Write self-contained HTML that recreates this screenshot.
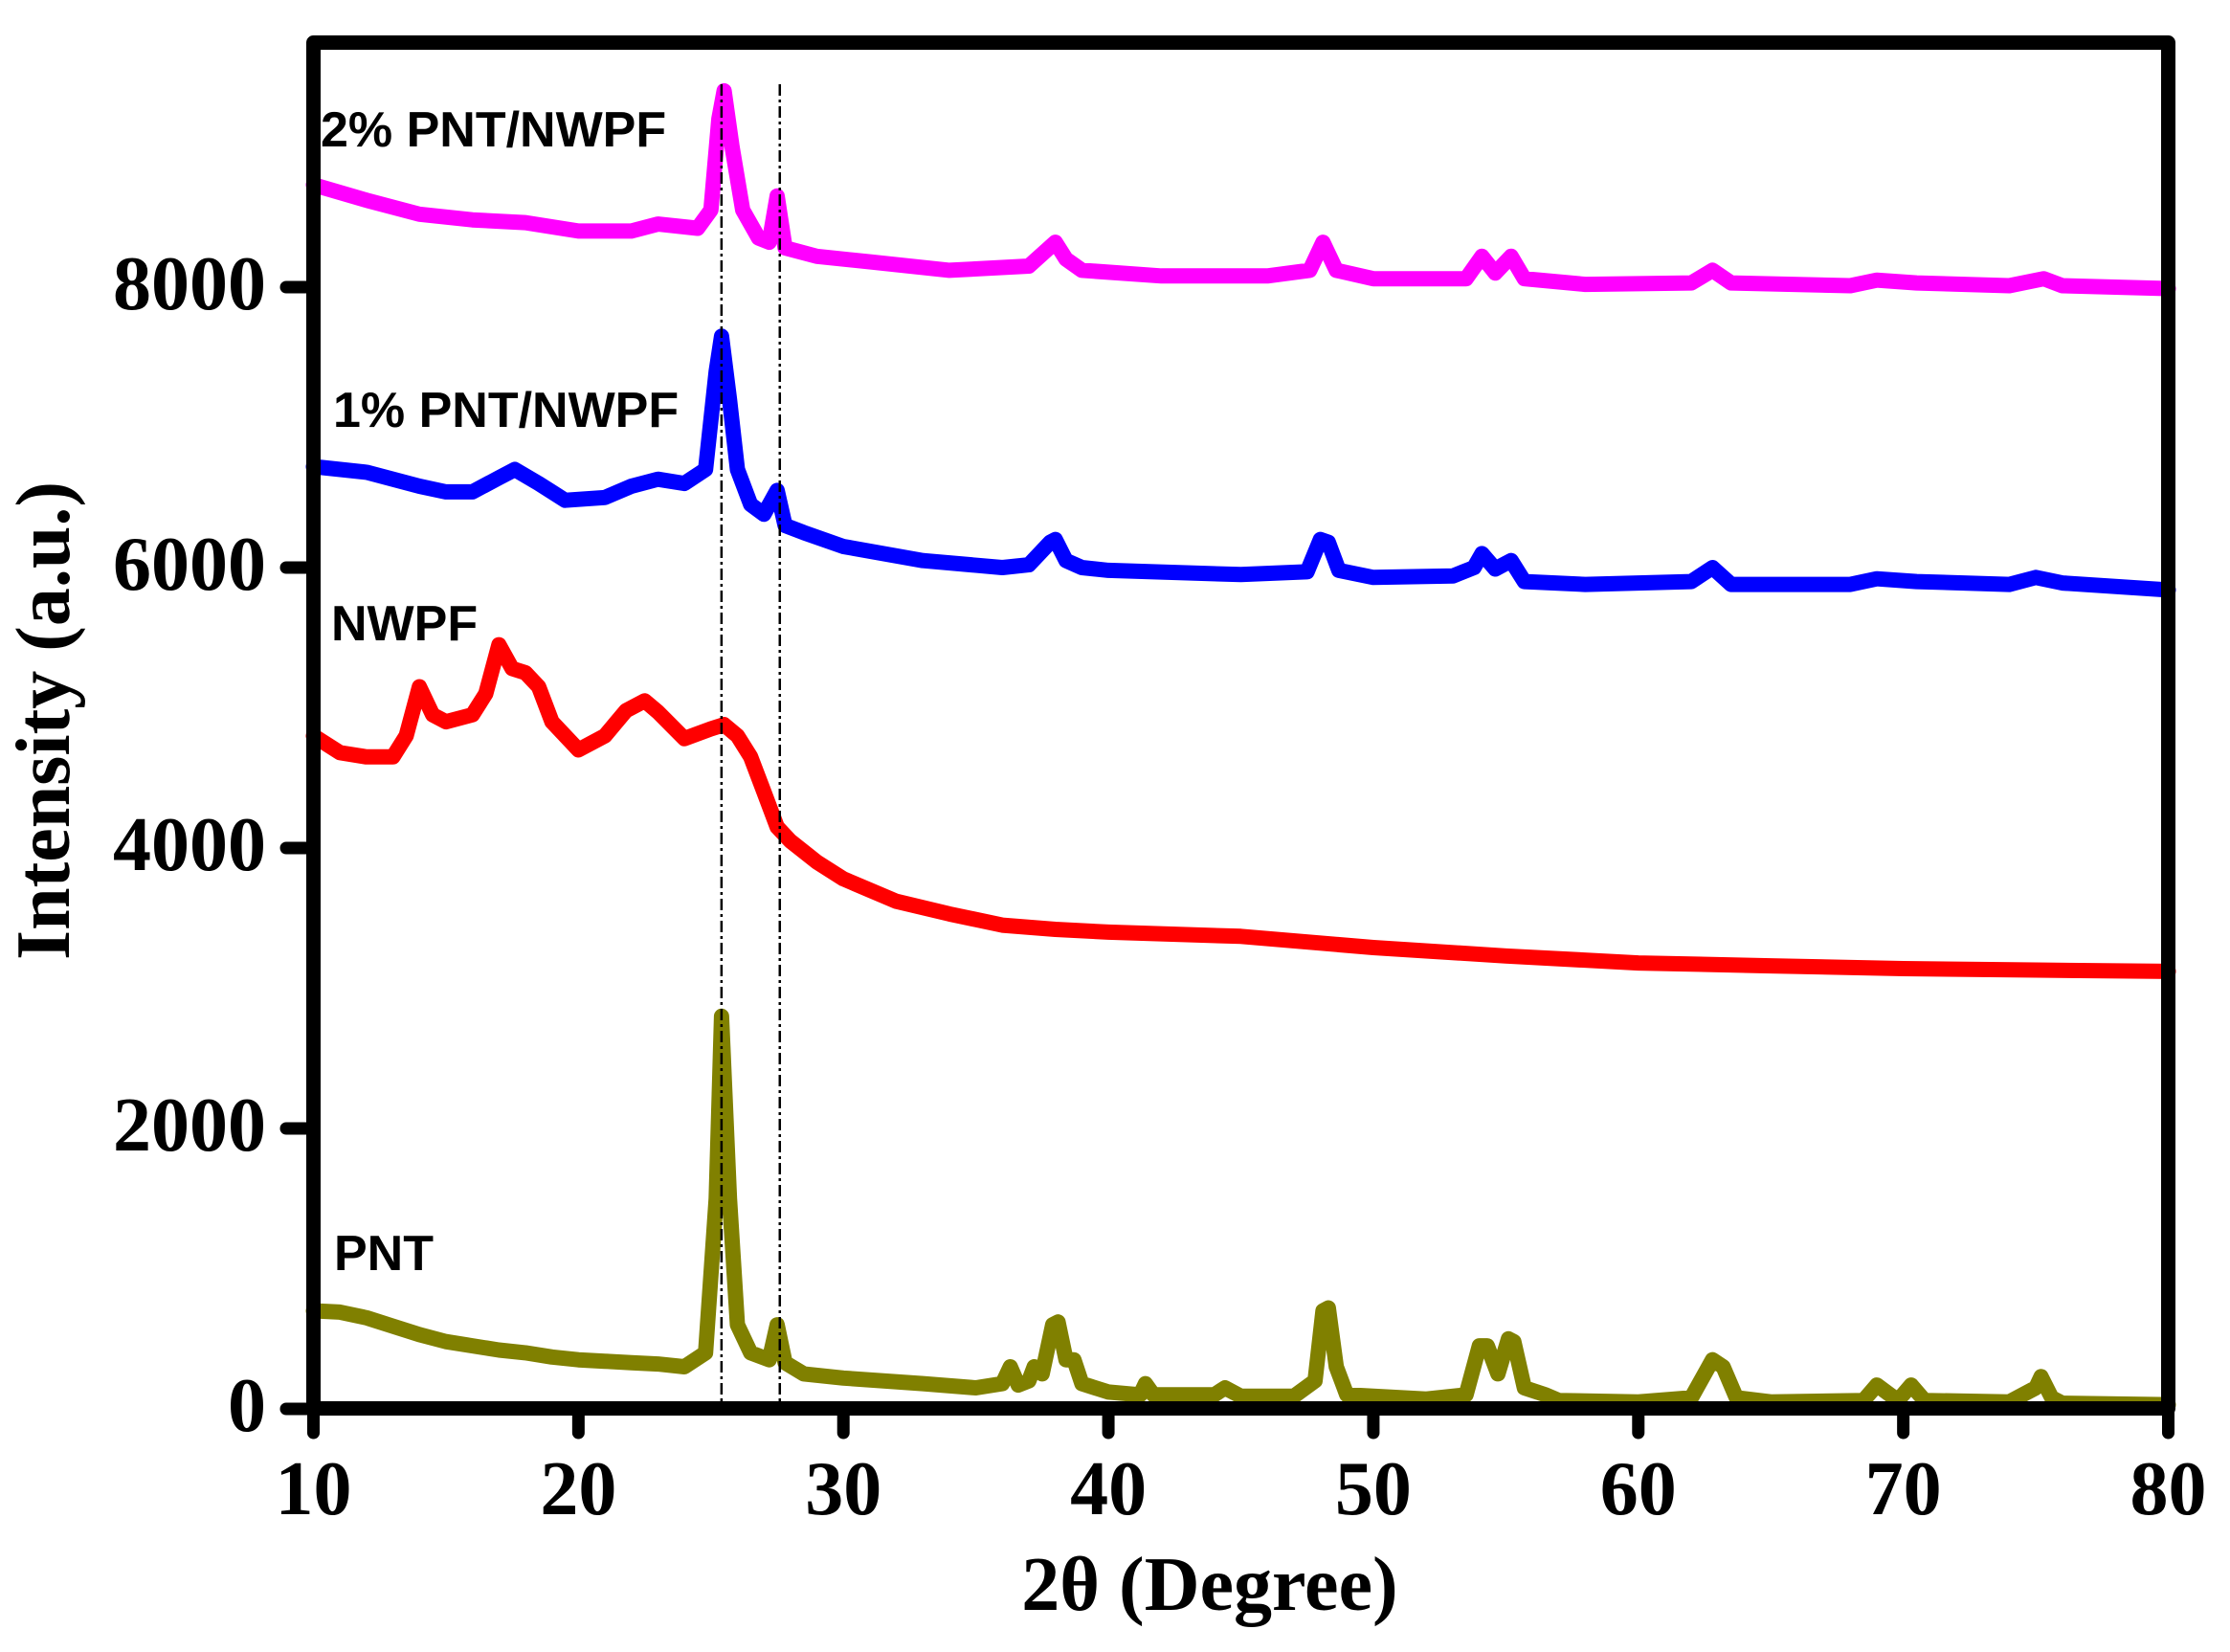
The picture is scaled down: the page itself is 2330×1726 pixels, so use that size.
<!DOCTYPE html>
<html><head><meta charset="utf-8"><style>
html,body{margin:0;padding:0;background:#fff;}
svg{display:block;}
.tick{font-family:"Liberation Serif",serif;font-weight:bold;font-size:80px;fill:#000;}
.lab{font-family:"Liberation Sans",sans-serif;font-weight:bold;font-size:52px;fill:#000;}
</style></head><body>
<svg id="chart" width="2330" height="1726" viewBox="0 0 2330 1726" xmlns="http://www.w3.org/2000/svg">
<g id="series"></g>
<g id="axes"></g>
<rect x="327.5" y="44.5" width="1938" height="1427" fill="none" stroke="#000" stroke-width="15" stroke-linejoin="round"/>
<text class="lab" x="335" y="153">2% PNT/NWPF</text>
<text class="lab" x="348" y="446">1% PNT/NWPF</text>
<text class="lab" x="346" y="669">NWPF</text>
<text class="lab" x="349" y="1327">PNT</text>
<text class="tick" x="1264" y="1682" text-anchor="middle" font-size="86">2θ (Degree)</text>
<text class="tick" transform="translate(72,753) rotate(-90)" text-anchor="middle" font-size="84">Intensity (a.u.)</text>
</svg>
<script>
const xTicks=[10,20,30,40,50,60,70,80];
const yTicks=[0,2000,4000,6000,8000];
const refLines=[25.4,27.6];
const pntX=[10,11,12,13,14,15,16,17,18,19,20,21,22,23,24,24.8,25.2,25.4,25.7,26,26.5,27.2,27.5,27.8,28.5,30,33,35,36,36.3,36.6,37,37.2,37.5,37.9,38.1,38.4,38.7,39,40,41.2,41.4,41.7,44,44.4,45,47,47.8,48.1,48.3,48.6,49,52,53.5,54,54.3,54.7,55.1,55.3,55.7,56.5,57,60,62,62.8,63.2,63.7,65,68.5,69,69.5,69.8,70.3,70.8,74,75,75.2,75.6,76,80];
const pntY=[700,690,650,590,530,480,450,420,400,370,350,340,330,320,300,400,1500,2800,1500,600,400,350,600,330,250,220,180,150,180,300,170,200,300,250,600,620,350,350,180,120,100,180,100,100,150,90,90,200,700,720,300,100,70,100,450,450,250,500,480,150,100,60,50,80,350,300,80,50,60,170,100,60,170,60,50,150,230,80,40,30];
const nwpfX=[10,11,12,13,13.5,14,14.5,15,16,16.5,17,17.5,18,18.5,19,20,21,21.8,22.5,23,24,25,25.5,26,26.5,27,27.5,28,29,30,31,32,34,36,38,40,45,50,55,60,65,70,75,80];
const nwpfY=[4800,4680,4650,4650,4800,5150,4950,4900,4950,5100,5450,5280,5250,5150,4900,4700,4800,4980,5050,4970,4780,4850,4880,4800,4650,4400,4150,4050,3900,3780,3700,3620,3530,3450,3420,3400,3370,3290,3230,3180,3160,3140,3130,3120];
const p1X=[10,12,14,15,16,17,17.6,18.5,19.5,21,22,23,24,24.8,25.2,25.4,25.7,26,26.5,27,27.5,27.8,28.5,30,33,36,37,37.8,38,38.4,39,40,45,47.5,48,48.3,48.7,50,53,53.8,54.1,54.6,55.2,55.7,58,62,62.8,63.5,68,69,70.5,74,75,76,80];
const p1Y=[6720,6680,6580,6540,6540,6640,6700,6600,6480,6500,6580,6630,6600,6700,7400,7650,7200,6700,6450,6380,6550,6300,6250,6150,6050,6000,6020,6180,6200,6050,6000,5980,5950,5970,6200,6180,5980,5930,5940,6000,6100,5990,6050,5900,5880,5900,6000,5880,5880,5920,5900,5880,5930,5890,5840];
const p2X=[10,12,14,16,18,20,22,23,24.5,25,25.3,25.5,25.8,26.2,26.8,27.2,27.5,27.8,29,31,34,37,38,38.4,39,42,46,47.6,48.1,48.6,50,53.5,54.1,54.6,55.2,55.7,58,62,62.8,63.5,68,69,70.5,74,75.3,76,80];
const p2Y=[8730,8620,8520,8480,8460,8400,8400,8450,8420,8550,9200,9400,9000,8550,8350,8320,8650,8280,8220,8180,8120,8150,8320,8200,8120,8080,8080,8120,8320,8120,8060,8060,8220,8100,8220,8060,8020,8030,8120,8030,8010,8050,8030,8010,8060,8010,7990];
const NS="http://www.w3.org/2000/svg";
function sx(v){return 327.5+(v-10)*(2265.5-327.5)/70;}
function sy(v){return 1472-v*1172/8000;}
const sg=document.getElementById('series'), ag=document.getElementById('axes');
function mk(t,a,p){const e=document.createElementNS(NS,t);for(const k in a)e.setAttribute(k,a[k]);p.appendChild(e);return e;}
const series=[[pntX,pntY,'#808000','pnt-series'],[nwpfX,nwpfY,'#ff0000','nwpf-series'],[p1X,p1Y,'#0000ff','1pct-series'],[p2X,p2Y,'#ff00ff','2pct-series']];
series.forEach(s=>{
  const d=s[0].map((x,i)=>(i?'L':'M')+sx(x).toFixed(1)+' '+sy(s[1][i]).toFixed(1)).join(' ');
  const p=mk('path',{d:d,fill:'none',stroke:s[2],'stroke-width':16,'stroke-linejoin':'round','stroke-linecap':'round'},sg);
  
  
});
refLines.forEach(v=>{
  const l=mk('line',{x1:sx(v),x2:sx(v),y1:88,y2:1472,stroke:'#000','stroke-width':2.5,'stroke-dasharray':'12 4 3 4'},sg);
  
  
});
xTicks.forEach(v=>{
  const t=mk('line',{x1:sx(v),x2:sx(v),y1:1472,y2:1497,stroke:'#000','stroke-width':13,'stroke-linecap':'round'},ag);
  
  
  const tx=mk('text',{x:sx(v),y:1582,'text-anchor':'middle',class:'tick'},ag);
  tx.textContent=v;
  
  
});
yTicks.forEach(v=>{
  const t=mk('line',{x1:299,x2:327,y1:sy(v),y2:sy(v),stroke:'#000','stroke-width':13,'stroke-linecap':'round'},ag);
  
  
  const tx=mk('text',{x:278,y:sy(v)+23,'text-anchor':'end',class:'tick'},ag);
  tx.textContent=v;
  
  
});
</script>
</body></html>
